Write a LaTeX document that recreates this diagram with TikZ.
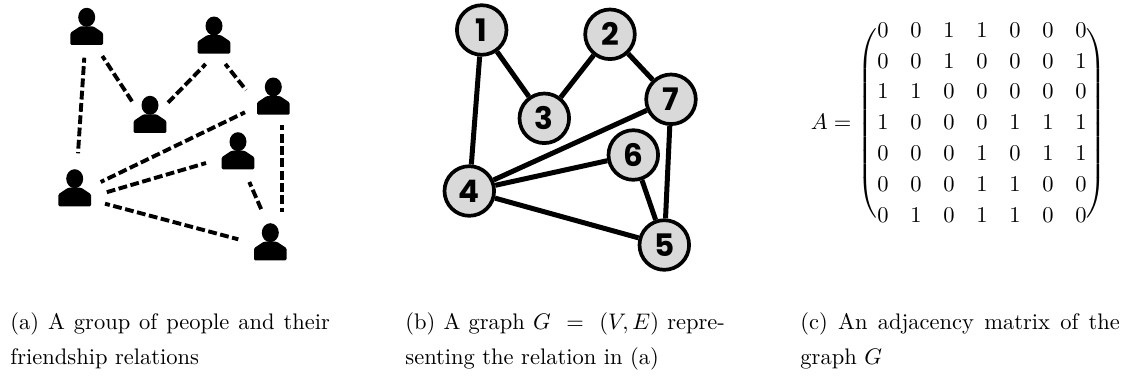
\documentclass[tikz,border=0pt]{standalone}
\usepackage{fontspec}
\usepackage{amsmath}
\newfontfamily\numfont{Poppins}
\usetikzlibrary{shapes.geometric}
\definecolor{vgray}{HTML}{D9D9D9}
\tikzset{
  x=1pt,y=-1pt,
  personpart/.style={fill=black,draw=none},
  friend/.style={draw=black,line width=3.9pt,dash pattern=on 8.8pt off 3.5pt,dash phase=3.8pt},
  vertex/.style={circle,draw=black,line width=3.7pt,fill=vgray,minimum size=49.6pt,inner sep=0pt,
     font=\numfont\bfseries\fontsize{31}{31}\selectfont},
  relation/.style={draw=black,line width=5pt},
  captionline/.style={anchor=base west,inner sep=0pt,scale=2.25},
}
\newcommand{\personat}[3]{%
  \node[personpart,ellipse,inner sep=0pt,minimum width=17pt,minimum height=19pt] (#1) at (#2,#3) {};
  \fill[rounded corners=1.2pt] (#2-16.3,#3+27.6) -- (#2-16.3,#3+15.5) -- (#2-6.5,#3+9) -- (#2+6.5,#3+9) -- (#2+16.3,#3+15.5) -- (#2+16.3,#3+27.6) -- cycle;
}
\newcommand{\capfill}[1]{\hbox to 142pt{#1}}
\begin{document}
\begin{tikzpicture}
\useasboundingbox (0,0) rectangle (1126,378);
% people
\personat{pa}{86.7}{17.3}
\personat{pb}{214}{26}
\personat{pc}{150}{105.3}
\personat{pd}{273.3}{87}
\personat{pe}{238}{141.7}
\personat{pf}{74.7}{178.7}
\personat{pg}{270.3}{232.7}
% friendship connector ends
\coordinate (a1) at (84.3,57.7);  \coordinate (a2) at (78,153.3);
\coordinate (b1) at (102.3,56);   \coordinate (b2) at (133.3,103.3);
\coordinate (c1) at (205.7,64);   \coordinate (c2) at (168,102.7);
\coordinate (d1) at (225.3,64);   \coordinate (d2) at (246,90);
\coordinate (e1) at (245,112.3);  \coordinate (e2) at (100.7,182);
\coordinate (f1) at (206,163);    \coordinate (f2) at (105,192.7);
\coordinate (g1) at (281.7,125.3);\coordinate (g2) at (281.7,211.7);
\coordinate (h1) at (249.3,182);  \coordinate (h2) at (262.3,211.7);
\coordinate (i1) at (105,203.7);  \coordinate (i2) at (238.3,239.3);
\draw[friend] (a1) -- (a2);
\draw[friend] (b1) -- (b2);
\draw[friend] (c1) -- (c2);
\draw[friend] (d1) -- (d2);
\draw[friend] (e1) -- (e2);
\draw[friend] (f1) -- (f2);
\draw[friend] (g1) -- (g2);
\draw[friend] (h1) -- (h2);
\draw[friend] (i1) -- (i2);
% graph
\node[vertex] (v1) at (481.7,30) {1};
\node[vertex] (v2) at (610,34.3) {2};
\node[vertex] (v3) at (544.3,118.3) {3};
\node[vertex] (v4) at (469.3,191) {4};
\node[vertex] (v5) at (664.3,245) {5};
\node[vertex] (v6) at (633.3,155) {6};
\node[vertex] (v7) at (671,99.3) {7};
\foreach \p/\q in {v1/v3,v1/v4,v2/v3,v2/v7,v4/v5,v4/v6,v4/v7,v5/v6,v5/v7}
  \draw[relation] (\p) -- (\q);
% matrix
\node[anchor=center,inner sep=0pt,scale=2.25] (mat) at (958.5,123.5) {%
  \renewcommand{\arraystretch}{1.14}\setlength{\arraycolsep}{4.83pt}%
  \delimiterfactor=850 \delimitershortfall=12pt
  $A=\begin{pmatrix}
  0&0&1&1&0&0&0\\
  0&0&1&0&0&0&1\\
  1&1&0&0&0&0&0\\
  1&0&0&0&1&1&1\\
  0&0&0&1&0&1&1\\
  0&0&0&1&1&0&0\\
  0&1&0&1&1&0&0
  \end{pmatrix}$};
% captions
\node[captionline] (ca1) at (10,329) {\capfill{(a) A group of people and their}};
\node[captionline] (ca2) at (10,364) {friendship relations};
\node[captionline] (cb1) at (405,329) {\capfill{(b) A graph $G\ =\ (V,E)$ repre-}};
\node[captionline] (cb2) at (405,364) {senting the relation in (a)};
\node[captionline] (cc1) at (800,329) {\capfill{(c) An adjacency matrix of the}};
\node[captionline] (cc2) at (800,364) {graph $G$};
\end{tikzpicture}
\end{document}
